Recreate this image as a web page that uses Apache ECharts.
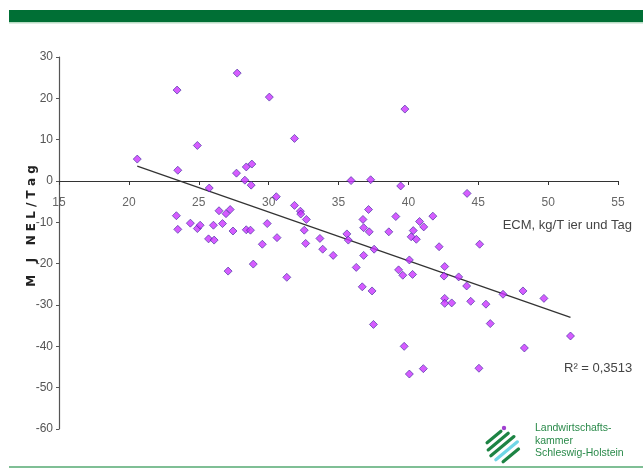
<!DOCTYPE html>
<html><head><meta charset="utf-8">
<script src="https://cdn.jsdelivr.net/npm/echarts@6/dist/echarts.min.js"></script>
<style>html,body{margin:0;padding:0;background:#fff}#c{width:643px;height:470px}</style>
</head><body><div id="c"></div>
<script>
// ECM (kg/Tier und Tag)
const ecm = [20.6,23.45,23.5,24.9,25.75,23.4,23.5,24.4,24.9,25.1,26.05,26.7,26.45,26.95,27.25,25.7,26.1,27.45,28.4,28.7,29.9,29.55,30.6,27.1,28.9,31.3,27.75,30.05,31.85,39.75,27.7,28.4,28.8,28.3,28.75,35.9,37.3,39.45,44.2,30.55,31.85,32.27,32.3,32.7,32.55,32.65,33.67,33.87,34.62,37.15,36.75,36.8,37.2,35.6,35.7,39.1,38.6,40.8,41.1,41.75,40.35,40.2,40.57,42.2,45.1,36.8,37.55,36.27,40.07,39.3,39.6,40.3,42.6,42.55,43.6,44.17,36.7,37.4,46.77,48.2,49.7,42.6,42.6,43.1,44.46,45.55,37.5,45.86,51.6,39.7,48.3,41.07,40.07,45.05];
// MJ NEL/Tag
const nel = [5.3,22.0,2.6,8.6,-1.7,-8.4,-11.7,-10.2,-11.5,-10.7,-10.7,-10.3,-7.2,-7.9,-6.9,-14.0,-14.3,-12.1,-11.8,-11.9,-10.3,-15.3,-13.7,-21.8,-20.1,-23.3,26.1,20.3,10.3,17.4,1.9,3.4,4.1,0.2,-1.0,0.1,0.3,-1.2,-3.0,-3.8,-5.9,-7.3,-8.0,-9.3,-11.9,-15.1,-13.9,-16.5,-18.0,-6.9,-9.3,-11.3,-12.3,-12.8,-14.3,-8.6,-12.3,-9.8,-11.1,-8.5,-12.0,-13.5,-14.1,-15.9,-15.3,-18.0,-16.5,-20.9,-19.1,-21.5,-22.8,-22.6,-20.7,-23.0,-23.2,-25.4,-25.6,-26.6,-27.4,-26.6,-28.4,-28.4,-29.6,-29.5,-29.1,-29.8,-34.7,-34.5,-37.5,-40.0,-40.4,-45.4,-46.7,-45.3];
// linear trend line end points
const trendX = [20.6, 51.6];
const trendY = [3.6, -33.0];
const xTicks = [15, 20, 25, 30, 35, 40, 45, 50, 55];
const yTicks = [-60, -50, -40, -30, -20, -10, 0, 10, 20, 30];
const rSquared = "0,3513";
const xTitle = "ECM, kg/T ier und Tag";
const yTitle = "M J NEL/Tag";
const logoLines = ["Landwirtschafts-", "kammer", "Schleswig-Holstein"];

const pts = ecm.map((x, i) => [x, nel[i]]);
const trend = trendX.map((x, i) => [x, trendY[i]]);
const font = "'Liberation Sans Narrow','Liberation Sans',Arial,sans-serif";

const GRID_TOP = 57, GRID_BOTTOM = 41, H = 470;
const plotH = H - GRID_TOP - GRID_BOTTOM;
const yMin = yTicks[0], yMax = yTicks[yTicks.length - 1];
// move the x axis up to the value 0 of the y axis
const xAxisOffset = -plotH * (0 - yMin) / (yMax - yMin);

const chart = echarts.init(document.getElementById('c'), null, {renderer: 'canvas'});
const stripeCols = ['#1d8444', '#1d8444', '#1d8444', '#6fd6e6', '#1d8444'];
const stripeLen = [18, 26, 30, 28, 20];
const logoStripes = stripeCols.map((c, i) => {
  const cx = 494 + i * 4.2, cy = 437 + i * 4.6, L = stripeLen[i] / 2;
  const dx = 0.77 * L, dy = -0.64 * L;
  return {type: 'line', z: 10,
    shape: {x1: cx - dx, y1: cy - dy, x2: cx + dx, y2: cy + dy},
    style: {stroke: c, lineWidth: 3.2, lineCap: 'round'}};
});
chart.setOption({
  backgroundColor: '#ffffff',
  animation: false,
  grid: {left: 59, right: 25, top: GRID_TOP, bottom: GRID_BOTTOM, containLabel: false},
  xAxis: {
    type: 'value', min: xTicks[0], max: xTicks[xTicks.length - 1], interval: 5,
    position: 'bottom', offset: xAxisOffset,
    axisLine: {onZero: false, lineStyle: {color: '#333', width: 1.2}},
    axisTick: {show: true, length: 4, lineStyle: {color: '#333'}},
    axisLabel: {color: '#666', fontSize: 12, fontFamily: font, margin: 16},
    splitLine: {show: false}
  },
  yAxis: {
    type: 'value', min: yMin, max: yMax, interval: 10,
    axisLine: {show: true, onZero: false, lineStyle: {color: '#555', width: 1.2}},
    axisTick: {show: true, length: 3, lineStyle: {color: '#555'}},
    axisLabel: {color: '#555', fontSize: 12, fontFamily: font, margin: 6},
    splitLine: {show: false}
  },
  series: [
    {
      type: 'line', data: trend, symbol: 'none', silent: true, z: 1,
      lineStyle: {color: '#333', width: 1.2}
    },
    {
      type: 'scatter', data: pts, symbol: 'diamond', symbolSize: 8, z: 3,
      itemStyle: {color: '#cc33ff', borderColor: '#3a2a9a', borderWidth: 0.8}
    }
  ],
  graphic: [
    {type: 'rect', shape: {x: 9, y: 10, width: 634, height: 12}, style: {fill: '#006f35'}},
    {type: 'rect', shape: {x: 9, y: 22, width: 634, height: 1.5}, style: {fill: '#b8dcc4'}},
    {type: 'rect', shape: {x: 9, y: 466, width: 634, height: 2}, style: {fill: '#7fbf95'}},
    {type: 'text', x: 32, y: 226, rotation: Math.PI / 2,
      style: {text: yTitle.split('').join(' '), fill: '#222', font: "bold 12px 'DejaVu Sans',sans-serif", align: 'center', verticalAlign: 'middle'}},
    {type: 'text', x: 632, y: 225,
      style: {text: xTitle, fill: '#444', font: "13px " + font, align: 'right', verticalAlign: 'middle'}},
    {type: 'text', x: 564, y: 368,
      style: {text: 'R\u00b2 = ' + rSquared, fill: '#444', font: "13px " + font, align: 'left', verticalAlign: 'middle'}},
    ...logoStripes,
    {type: 'circle', z: 11, shape: {cx: 504, cy: 428, r: 2.2}, style: {fill: '#a040d0'}},
    {type: 'text', x: 535, y: 428,
      style: {text: logoLines[0], fill: '#2a8a4a', font: "10.5px " + font, verticalAlign: 'middle'}},
    {type: 'text', x: 535, y: 441,
      style: {text: logoLines[1], fill: '#2a8a4a', font: "10.5px " + font, verticalAlign: 'middle'}},
    {type: 'text', x: 535, y: 453,
      style: {text: logoLines[2], fill: '#2a8a4a', font: "10.5px " + font, verticalAlign: 'middle'}}
  ]
});
</script></body></html>
